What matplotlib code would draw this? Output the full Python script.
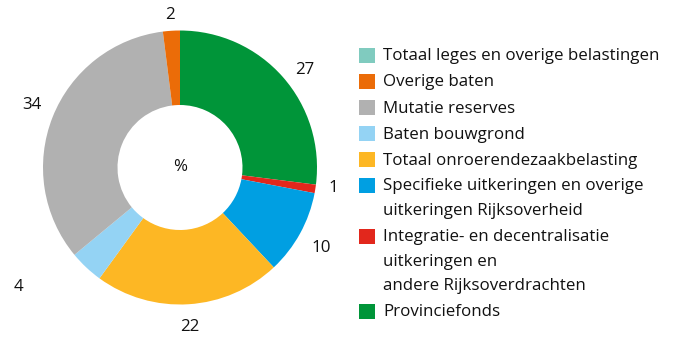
import numpy as np
import matplotlib
matplotlib.use('Agg')
import matplotlib.pyplot as plt
from matplotlib.patches import Rectangle

# shares in %, drawn clockwise from 12 o'clock
categories = ['Provinciefonds',
              'Integratie- en decentralisatie\nuitkeringen en\nandere Rijksoverdrachten',
              'Specifieke uitkeringen en overige\nuitkeringen Rijksoverheid',
              'Totaal onroerendezaakbelasting',
              'Baten bouwgrond',
              'Mutatie reserves',
              'Overige baten',
              'Totaal leges en overige belastingen']
values = [27, 1, 10, 22, 4, 34, 2, 0]
colors = ['#009539', '#e2271c', '#009fe2', '#fdb724',
          '#94d3f4', '#b1b1b1', '#eb6c08', '#80cbbf']

W, H     = 678, 337
FONT     = 'Open Sans'
FONTSIZE = 12.2
INK      = '#111111'


def px(x, y):
    # pixel position (origin top-left) to figure fraction
    return x / W, 1 - y / H


fig = plt.figure(figsize=(W / 100, H / 100), dpi=100)

# donut: centre (180, 167.5), outer radius 137 px
R_PX = 137.0
half = 150.0
x0, y1 = px(180 - half, 167.5 - half)
ax = fig.add_axes([x0, y1 - 2 * half / H, 2 * half / W, 2 * half / H])

wedges, _ = ax.pie(values, colors=colors, startangle=90, counterclock=False,
                   radius=1.0, wedgeprops=dict(width=1 - 62.5 / R_PX, linewidth=0))

# pie() sets its own limits, so fix them afterwards
lim = half / R_PX
ax.set_xlim(-lim, lim)
ax.set_ylim(-lim, lim)
ax.set_aspect('equal')
ax.axis('off')

# value labels just outside the ring, with small hand tweaks per slice (index -> dx, dy)
label_radius = 1.165
nudge = {0: (0.04, -0.06), 1: (-0.035, 0.03), 2: (0.013, -0.026),
         4: (-0.38, -0.02), 5: (0.0, 0.028), 6: (0.0, -0.05)}
for i, (w, v) in enumerate(zip(wedges, values)):
    if v == 0:
        continue
    ang = np.deg2rad((w.theta1 + w.theta2) / 2)
    lx = label_radius * np.cos(ang)
    ly = label_radius * np.sin(ang)
    dx, dy = nudge.get(i, (0, 0))
    ax.text(lx + dx, ly + dy, str(v), ha='center', va='center',
            fontsize=FONTSIZE, family=FONT, color=INK, clip_on=False)

ax.text(0, 0, '%', ha='center', va='center', fontsize=FONTSIZE, family=FONT, color=INK)

# legend, listed in reverse order of the slices
ENTRY_GAP = 26.0
LINE_GAP  = 24.5
y = 55.5
for label, color in zip(categories[::-1], colors[::-1]):
    bx, by = px(359, y + 7.5)
    fig.patches.append(Rectangle((bx, by), 15.5 / W, 15 / H, transform=fig.transFigure,
                                 facecolor=color, edgecolor='none'))
    lines = label.split('\n')
    for i, line in enumerate(lines):
        tx, ty = px(383, y + 1 + i * LINE_GAP)
        fig.text(tx, ty, line, ha='left', va='center', fontsize=FONTSIZE,
                 family=FONT, color=INK)
    y += (len(lines) - 1) * LINE_GAP + ENTRY_GAP

fig.savefig('out.png', dpi=100)
